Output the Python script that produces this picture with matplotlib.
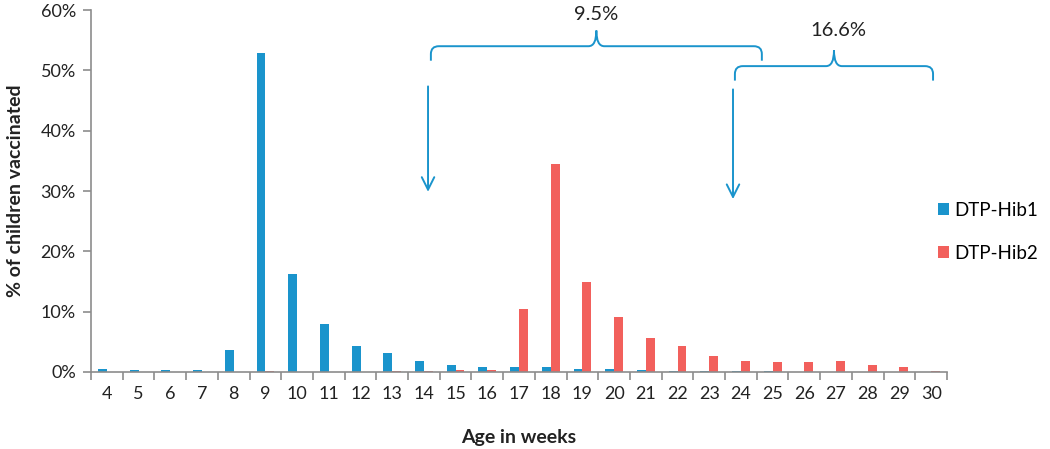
import numpy as np
import matplotlib.pyplot as plt
from matplotlib.path import Path
from matplotlib.patches import PathPatch
from matplotlib.ticker import FuncFormatter, MultipleLocator

plt.rcParams['font.family'] = ['Lato', 'DejaVu Sans']

weeks = list(range(4, 31))
hib1 = [0.55, 0.3, 0.3, 0.3, 3.6, 52.9, 16.2, 7.9, 4.3, 3.1, 1.8, 1.1, 0.9,
        0.9, 0.9, 0.55, 0.5, 0.4, 0.2, 0.2, 0.2, 0.2, 0.0, 0.0, 0.0, 0.0, 0.0]
hib2 = [0.0, 0.0, 0.0, 0.0, 0.0, 0.1, 0.0, 0.0, 0.0, 0.2, 0.2, 0.3, 0.3,
        10.5, 34.4, 14.9, 9.1, 5.7, 4.3, 2.7, 1.8, 1.6, 1.6, 1.8, 1.1, 0.9, 0.1]

blue = '#1a94cc'
red = '#f2605c'
grey = '#8c8c8c'

fig = plt.figure(figsize=(10.5, 4.49), dpi=100)
ax = fig.add_axes([0.0867, 0.1715, 0.8152, 0.8062])

x = np.array(weeks)
w = 0.28
ax.bar(x - w / 2, hib1, width=w, color=blue, label='DTP-Hib1')
ax.bar(x + w / 2, hib2, width=w, color=red, label='DTP-Hib2')

ax.set_xlim(3.5, 30.5)
ax.set_ylim(0, 60)
ax.set_xticks(weeks)
ax.set_xticks(np.arange(3.5, 31, 1), minor=True)
ax.tick_params(axis='x', which='major', length=0, pad=10, labelsize=13, colors='#222222')
ax.tick_params(axis='x', which='minor', length=6, width=1.2, color=grey, direction='out')
ax.yaxis.set_major_locator(MultipleLocator(10))
ax.yaxis.set_major_formatter(FuncFormatter(lambda v, p: '%d%%' % v))
ax.tick_params(axis='y', length=6, width=1.2, color=grey, labelsize=13, colors='#222222', pad=5)
for s in ['top', 'right']:
    ax.spines[s].set_visible(False)
for s in ['left', 'bottom']:
    ax.spines[s].set_color(grey)
    ax.spines[s].set_linewidth(1.2)

ax.set_xlabel('Age in weeks', fontsize=14, fontweight='bold', color='#222222', va='center')
ax.xaxis.set_label_coords(0.5, -0.18)
ax.set_ylabel('% of children vaccinated', fontsize=14, fontweight='bold', color='#222222')
ax.yaxis.set_label_coords(-0.078, 0.5)


def brace(x0, x1, yb, drop, rise):
    xm = (x0 + x1) / 2
    rx, ry = 0.25, 1.3
    verts = [(x0, yb - drop), (x0, yb - ry), (x0, yb), (x0 + rx, yb),
             (xm - rx, yb), (xm, yb), (xm, yb + rise),
             (xm, yb), (xm + rx, yb),
             (x1 - rx, yb), (x1, yb), (x1, yb - ry), (x1, yb - drop)]
    codes = [Path.MOVETO, Path.LINETO, Path.CURVE3, Path.CURVE3,
             Path.LINETO, Path.CURVE3, Path.CURVE3,
             Path.CURVE3, Path.CURVE3,
             Path.LINETO, Path.CURVE3, Path.CURVE3, Path.LINETO]
    ax.add_patch(PathPatch(Path(verts, codes), fill=False, edgecolor=blue,
                           lw=1.4, clip_on=False))
    return xm


m1 = brace(14.22, 24.66, 54.0, 2.4, 2.6)
ax.text(m1, 59.3, '9.5%', ha='center', va='center', fontsize=14.5, color='#222222')
m2 = brace(23.81, 30.06, 50.7, 2.4, 2.6)
ax.text(m2 + 0.15, 56.6, '16.6%', ha='center', va='center', fontsize=14.5, color='#222222')

for ax_x, y0, y1 in [(14.13, 47.8, 29.4), (23.75, 47.3, 28.2)]:
    ax.annotate('', xy=(ax_x, y1), xytext=(ax_x, y0),
                arrowprops=dict(arrowstyle='->,head_length=0.9,head_width=0.45',
                                color=blue, lw=1.4))

fig.legend(loc='center left', bbox_to_anchor=(0.893, 0.484), frameon=False,
           fontsize=13.5, handlelength=0.6, handleheight=0.6, handletextpad=0.3,
           labelspacing=1.4, borderaxespad=0, borderpad=0)

plt.savefig('out.png', dpi=100)
